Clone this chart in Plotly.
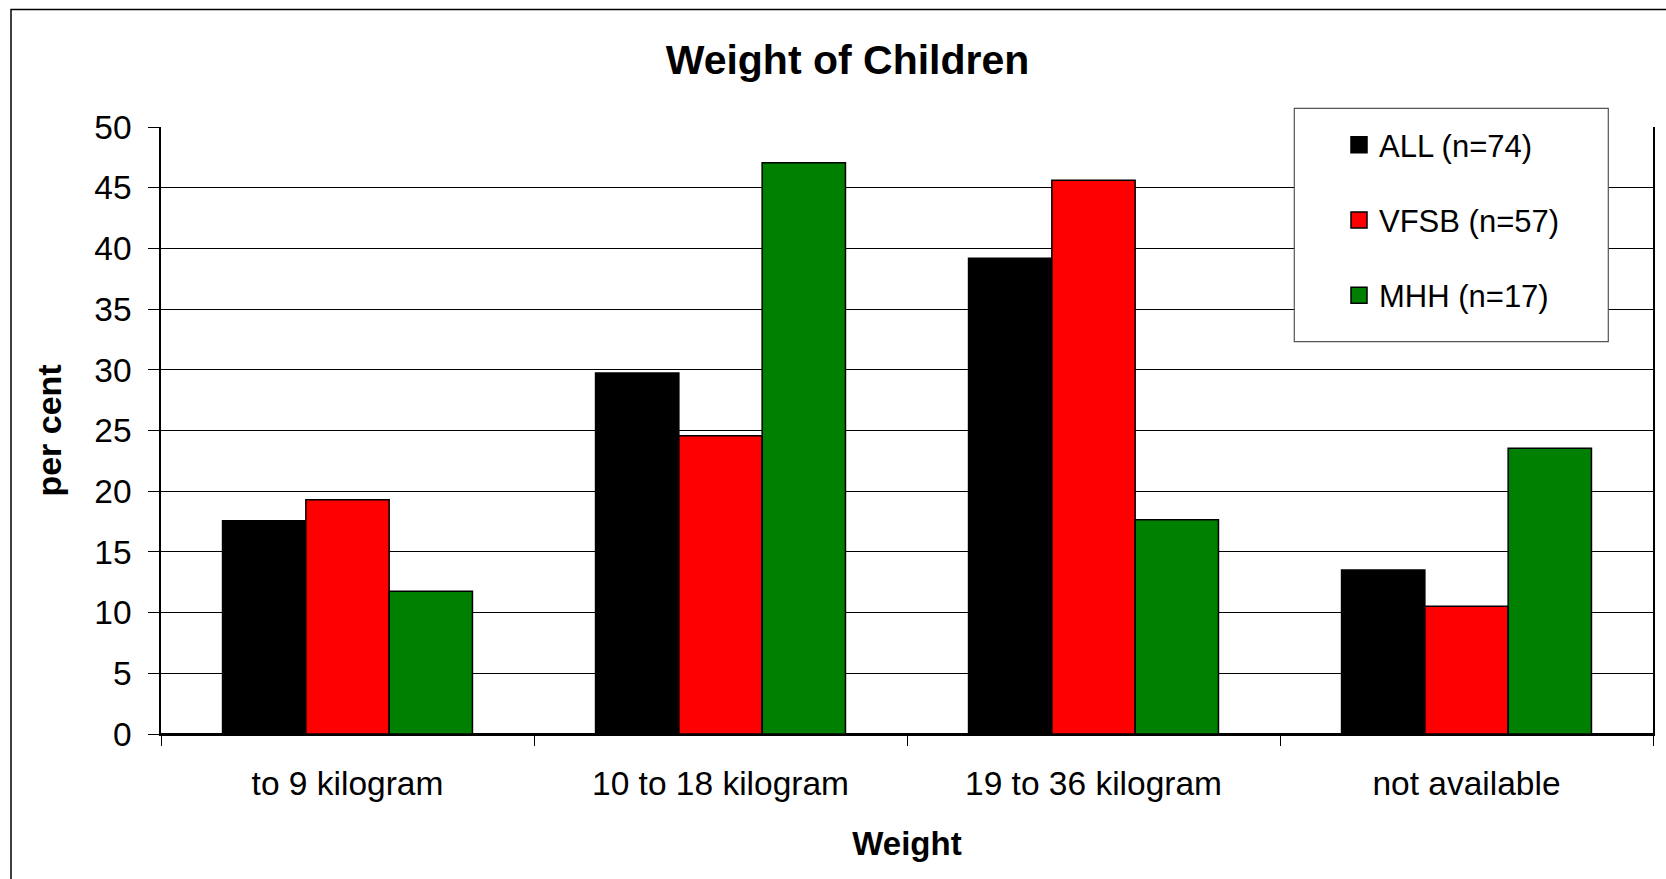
import plotly.graph_objects as go

categories = ["to 9 kilogram", "10 to 18 kilogram", "19 to 36 kilogram", "not available"]
series_names = ["ALL (n=74)", "VFSB (n=57)", "MHH (n=17)"]
all_values = [17.57, 29.73, 39.19, 13.51]
vfsb_values = [19.30, 24.56, 45.61, 10.53]
mhh_values = [11.76, 47.06, 17.65, 23.53]
colors = ["#000000", "#FF0000", "#008000"]
y_ticks = [0, 5, 10, 15, 20, 25, 30, 35, 40, 45, 50]

FONT = "Liberation Sans, Arial, sans-serif"
W, H = 1666, 879
L, R, T, B = 161, 13, 127, 145

fig = go.Figure()
for name, vals, col in zip(series_names, [all_values, vfsb_values, mhh_values], colors):
    fig.add_trace(go.Bar(
        x=categories, y=vals, name=name, legendgroup=name, showlegend=False,
        marker=dict(color=col, line=dict(color="#000000", width=1.5)),
    ))
for name, col in zip(series_names, colors):
    fig.add_trace(go.Scatter(
        x=[None], y=[None], mode="markers", name=name, legendgroup=name,
        marker=dict(symbol="square", size=16, color=col, line=dict(color="#000000", width=1.5)),
    ))

pw = W - L - R
ph = H - T - B
def px_x(p):
    return (p - L) / pw
def px_y(p):
    return (H - B - p) / ph

fig.update_layout(
    width=W, height=H,
    margin=dict(l=L, r=R, t=T, b=B, pad=0, autoexpand=False),
    paper_bgcolor="white", plot_bgcolor="white",
    barmode="group", bargap=0.33, bargroupgap=0,
    font=dict(family=FONT, color="#000000"),
    title=dict(text="<b>Weight of Children</b>", x=847.5 / W, xref="container", xanchor="center",
               y=1 - 60 / H, yref="container", yanchor="middle",
               font=dict(size=41, family=FONT, color="#000000")),
    legend=dict(x=px_x(1339), xref="paper", xanchor="left",
                y=px_y(118), yref="paper", yanchor="top",
                bgcolor="rgba(0,0,0,0)", borderwidth=0,
                font=dict(size=31, family=FONT, color="#000000"),
                tracegroupgap=32, traceorder="grouped", itemsizing="trace"),
    xaxis=dict(
        type="category", categoryorder="array", categoryarray=categories,
        automargin=False,
        showline=True, linecolor="#000000", linewidth=1.5,
        ticks="outside", tickson="boundaries", ticklen=10, tickcolor="#000000", tickwidth=1,
        tickfont=dict(size=33.5, family=FONT, color="#000000"),
        ticklabelstandoff=19,
        showgrid=False,
        title=dict(text="<b>Weight</b>", font=dict(size=33, family=FONT, color="#000000"), standoff=31),
    ),
    yaxis=dict(
        range=[0, 50], tickvals=y_ticks, ticktext=[str(v) for v in y_ticks],
        automargin=False,
        showline=True, linecolor="#000000", linewidth=1.5, mirror=True,
        ticks="outside", ticklen=11, tickcolor="#000000", tickwidth=1,
        tickfont=dict(size=33.5, family=FONT, color="#000000"),
        ticklabelstandoff=10,
        showgrid=True, gridcolor="#000000", gridwidth=1,
        zeroline=True, zerolinecolor="#000000", zerolinewidth=1.5,
        title=dict(text="<b>per cent</b>", font=dict(size=34, family=FONT, color="#000000"), standoff=22),
    ),
    shapes=[
        dict(type="rect", xref="paper", yref="paper",
             x0=px_x(1294.3), x1=px_x(1608.3), y0=px_y(341.7), y1=px_y(108.3),
             fillcolor="white", line=dict(color="#555555", width=1.2), layer="above"),
        dict(type="rect", xref="paper", yref="paper",
             x0=px_x(11), x1=px_x(1700), y0=px_y(920), y1=px_y(9.5),
             fillcolor="rgba(0,0,0,0)", line=dict(color="#000000", width=1.5), layer="below"),
    ],
)

fig.write_html("out.html", config={"displayModeBar": False},
               post_script="document.body.style.margin='0';document.body.style.padding='0';")
